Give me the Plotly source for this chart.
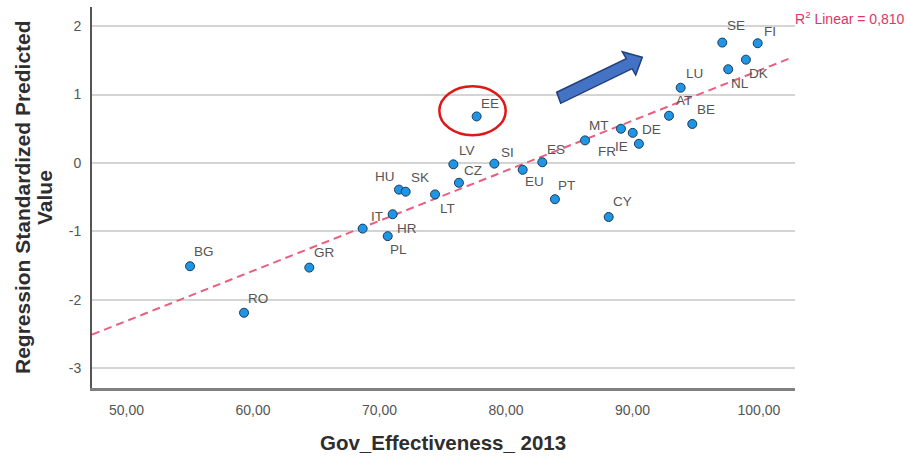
import numpy as np
import plotly.graph_objects as go

# Country codes, government effectiveness (2013) and standardized predicted values
countries = ["BG", "RO", "GR", "IT", "HR", "PL", "HU", "SK", "LT", "LV", "CZ", "EE", "SI", "EU",
             "ES", "PT", "MT", "CY", "FR", "IE", "DE", "AT", "BE", "LU", "SE", "NL", "DK", "FI"]
gov_effectiveness = [55.02, 59.29, 64.45, 68.67, 71.04, 70.65, 71.54, 72.07, 74.39, 75.84, 76.28, 77.68, 79.08, 81.32,
                     82.87, 83.87, 86.25, 88.12, 89.09, 90.02, 90.51, 92.89, 94.73, 93.81, 97.10, 97.57, 98.97, 99.90]
predicted = [-1.51, -2.19, -1.53, -0.96, -0.75, -1.07, -0.39, -0.42, -0.46, -0.02, -0.29, 0.68, -0.01, -0.10,
             0.01, -0.53, 0.33, -0.79, 0.50, 0.44, 0.28, 0.69, 0.57, 1.10, 1.76, 1.37, 1.51, 1.75]

x_tick_values = [50, 60, 70, 80, 90, 100]
x_tick_labels = ["50,00", "60,00", "70,00", "80,00", "90,00", "100,00"]
y_tick_values = [-3, -2, -1, 0, 1, 2]
y_tick_labels = ["-3", "-2", "-1", "0", "1", "2"]

# Label placement (pixel offsets from each marker; dy positive = downwards)
label_offsets = {
    "EE": (13, -13), "LV": (14, -14), "SI": (13, -11), "ES": (14, -13), "CZ": (14, -12),
    "HU": (-14, -13), "SK": (14, -14), "LT": (12, 14), "EU": (12, 12), "PT": (12, -14),
    "IT": (14, -12), "HR": (14, 14), "PL": (11, 13), "BG": (14, -15), "RO": (14, -14),
    "GR": (15, -15), "CY": (14, -15), "MT": (14, -15), "FR": (-14, 23), "IE": (-11, 14),
    "DE": (13, -14), "AT": (15, -15), "BE": (14, -14), "LU": (14, -14), "SE": (14, -17),
    "FI": (12, -12), "DK": (13, 14), "NL": (12, 14),
}

X_RANGE = [47.27, 102.85]
Y_RANGE = [-3.29, 2.28]

# Plot area in pixels
W, H = 907, 457
L, R, T, B = 92, 795, 7, 388


def px(xp, yp):
    """Pixel position -> paper coordinates of the plot area."""
    return (xp - L) / (R - L), (B - yp) / (B - T)


# Linear fit
xs = np.array(gov_effectiveness)
ys = np.array(predicted)
slope, intercept = np.polyfit(xs, ys, 1)
r2 = np.corrcoef(xs, ys)[0, 1] ** 2
fit_x = np.array([X_RANGE[0], 102.37])
fit_y = intercept + slope * fit_x

fig = go.Figure()

fig.add_trace(go.Scatter(
    x=fit_x, y=fit_y, mode="lines",
    line=dict(color="#e8607f", width=2, dash="8px,5px"),
    hoverinfo="skip", showlegend=False,
))

fig.add_trace(go.Scatter(
    x=gov_effectiveness, y=predicted, mode="markers",
    marker=dict(size=9, color="#1f95e6", line=dict(color="#1c3a5a", width=1)),
    text=countries, showlegend=False,
))

annotations = []
for c, xv, yv in zip(countries, gov_effectiveness, predicted):
    dx, dy = label_offsets[c]
    annotations.append(dict(
        x=xv, y=yv, xref="x", yref="y", text=c, showarrow=False,
        xshift=dx, yshift=-dy, xanchor="center", yanchor="middle",
        font=dict(family="Liberation Sans, Arial, sans-serif", size=13.5, color="#555555"),
    ))

# R² label at the end of the fit line
rx, ry = px(793, 18)
annotations.append(dict(
    x=rx, y=ry, xref="paper", yref="paper", showarrow=False,
    text="R<sup>2</sup> Linear = " + f"{r2:.3f}".replace(".", ","),
    xanchor="left", yanchor="middle",
    font=dict(family="Liberation Sans, Arial, sans-serif", size=14, color="#e0336b"),
))

# Axis titles
title_font = dict(family="Liberation Sans, Arial, sans-serif", size=21, color="#2e2e2e")
for xp, line in [(22, "<b>Regression Standardized Predicted</b>"), (44, "<b>Value</b>")]:
    ax_, ay_ = px(xp, 197)
    annotations.append(dict(
        x=ax_, y=ay_, xref="paper", yref="paper", text=line, showarrow=False,
        textangle=-90, xanchor="center", yanchor="middle", font=title_font,
    ))
tx, ty = px(443, 442)
annotations.append(dict(
    x=tx, y=ty, xref="paper", yref="paper", text="<b>Gov_Effectiveness_ 2013</b>",
    showarrow=False, xanchor="center", yanchor="middle",
    font=dict(family="Liberation Sans, Arial, sans-serif", size=20.5, color="#2e2e2e"),
))

# Red ellipse around EE and blue block arrow
shapes = [
    dict(type="circle", xref="x", yref="y", x0=74.73, x1=79.98, y0=0.405, y1=1.121,
         line=dict(color="#e01818", width=2.5)),
]
arrow_px = [(556.7, 92.3), (626.3, 58.6), (622.3, 51.7), (642.3, 57.3),
            (635.7, 75.0), (632.1, 68.7), (560.7, 103.3)]
pts = [px(a, b) for a, b in arrow_px]
path = "M " + " L ".join(f"{a:.5f},{b:.5f}" for a, b in pts) + " Z"
shapes.append(dict(type="path", xref="paper", yref="paper", path=path,
                   fillcolor="#4472c4", line=dict(color="#22407a", width=1.5)))

fig.update_layout(
    width=W, height=H,
    margin=dict(l=L, r=W - R, t=T, b=H - B, pad=0),
    paper_bgcolor="white", plot_bgcolor="white",
    showlegend=False,
    annotations=annotations,
    shapes=shapes,
    xaxis=dict(
        range=X_RANGE, tickvals=x_tick_values, ticktext=x_tick_labels,
        showgrid=False, zeroline=False, showline=True, linecolor="#808080", linewidth=2.5,
        ticks="", ticklabelstandoff=7,
        tickfont=dict(family="Liberation Sans, Arial, sans-serif", size=14, color="#555555"),
    ),
    yaxis=dict(
        range=Y_RANGE, tickvals=y_tick_values, ticktext=y_tick_labels,
        showgrid=True, gridcolor="#d4d4d4", gridwidth=1.5, zeroline=False,
        showline=True, linecolor="#555555", linewidth=2,
        ticks="", ticklabelstandoff=6,
        tickfont=dict(family="Liberation Sans, Arial, sans-serif", size=14, color="#555555"),
    ),
)

fig.write_html("out.html")
